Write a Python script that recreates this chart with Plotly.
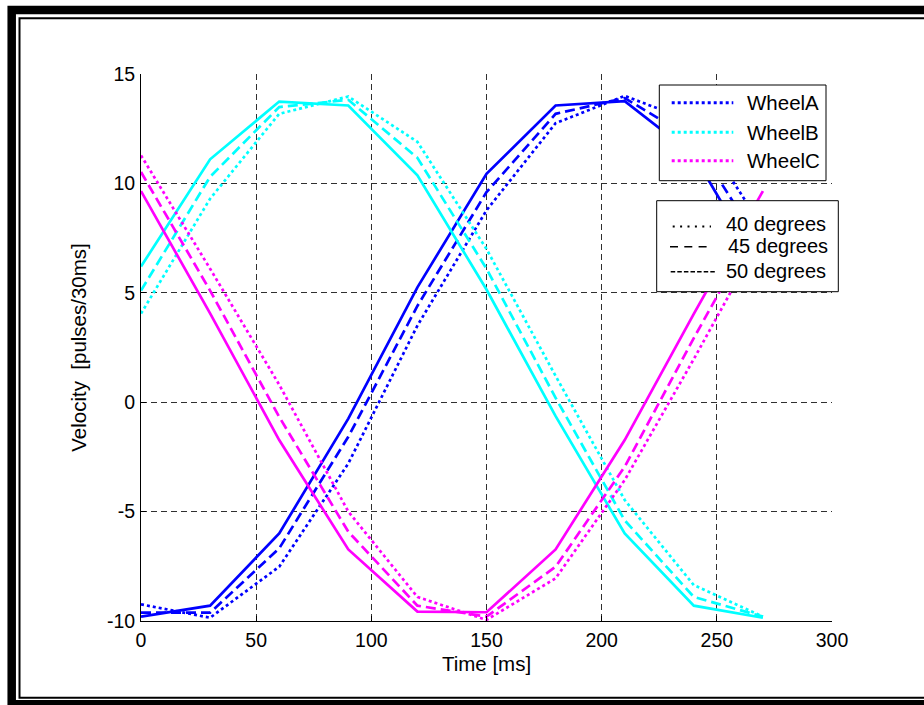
import plotly.graph_objects as go

# ---------------- data ----------------
time_ms = [0, 30, 60, 90, 120, 150, 180, 210, 240, 270]

wheelA_40 = [-9.24, -9.85, -7.52, -2.8, 3.5, 8.77, 12.75, 14.0, 12.8, 8.0]
wheelA_45 = [-9.62, -9.62, -6.68, -1.58, 4.4, 9.6, 13.18, 13.9, 12.0, 7.0]
wheelA_50 = [-9.8, -9.3, -6.0, -0.75, 5.25, 10.44, 13.56, 13.76, 11.3, 5.9]

wheelB_40 = [4.05, 9.3, 13.18, 13.97, 11.9, 7.0, 1.2, -4.47, -8.36, -9.8]
wheelB_45 = [5.1, 10.3, 13.49, 13.82, 11.17, 6.1, 0.2, -5.4, -8.9, -9.8]
wheelB_50 = [6.2, 11.1, 13.74, 13.56, 10.37, 5.15, -0.64, -6.0, -9.3, -9.85]

wheelC_40 = [11.28, 6.1, 0.8, -5.0, -8.9, -9.95, -8.05, -3.56, 1.97, 7.7]
wheelC_45 = [10.52, 5.1, -0.67, -5.92, -9.3, -9.8, -7.52, -2.95, 2.93, 8.6]
wheelC_50 = [9.65, 4.06, -1.73, -6.73, -9.57, -9.6, -6.73, -1.73, 4.04, 9.65]

wheel_names = ["WheelA", "WheelB", "WheelC"]
angle_names = ["40 degrees", "45 degrees", "50 degrees"]

x_tickvals = [0, 50, 100, 150, 200, 250, 300]
x_ticktext = ["0", "50", "100", "150", "200", "250", "300"]
y_tickvals = [-10, -5, 0, 5, 10, 15]
y_ticktext = ["-10", "-5", "0", "5", "10", "15"]

# ---------------- style ----------------
FONT = "Liberation Sans, Arial, sans-serif"
colors = {"WheelA": "#0000FF", "WheelB": "#00FFFF", "WheelC": "#FF00FF"}
dash_for = {"40 degrees": "dot", "45 degrees": "10px,5px", "50 degrees": "solid"}

W_FIG, H_FIG = 924, 705
L, R, T, B = 141, 92, 74, 84
PW, PH = W_FIG - L - R, H_FIG - T - B


def pxx(px):
    return (px - L) / PW


def pxy(py):
    return (T + PH - py) / PH


fig = go.Figure()

series = {
    "WheelA": [wheelA_40, wheelA_45, wheelA_50],
    "WheelB": [wheelB_40, wheelB_45, wheelB_50],
    "WheelC": [wheelC_40, wheelC_45, wheelC_50],
}

for wname in wheel_names:
    for ang, vals in zip(angle_names, series[wname]):
        fig.add_trace(go.Scatter(
            x=time_ms, y=vals, mode="lines",
            name=f"{wname} {ang}",
            line=dict(color=colors[wname], width=2.7, dash=dash_for[ang]),
            showlegend=False,
        ))

shapes = []
# outer frame (thick) and inner frame (thin)
shapes.append(dict(type="rect", xref="paper", yref="paper",
                   x0=pxx(11.7), x1=pxx(980), y0=pxy(9.9), y1=pxy(704.3),
                   line=dict(color="black", width=8.5), fillcolor="rgba(0,0,0,0)", layer="above"))
shapes.append(dict(type="rect", xref="paper", yref="paper",
                   x0=pxx(19.5), x1=pxx(980), y0=pxy(18.2), y1=pxy(697.7),
                   line=dict(color="black", width=2), fillcolor="rgba(0,0,0,0)", layer="above"))

# legend 1 (wheels)
shapes.append(dict(type="rect", xref="paper", yref="paper",
                   x0=pxx(659.3), x1=pxx(826), y0=pxy(85), y1=pxy(180.7),
                   line=dict(color="black", width=1), fillcolor="white", layer="above"))
leg1_y = [102.7, 132.3, 160.7]
for wname, yy in zip(wheel_names, leg1_y):
    shapes.append(dict(type="line", xref="paper", yref="paper",
                       x0=pxx(671.7), x1=pxx(733.3), y0=pxy(yy), y1=pxy(yy),
                       line=dict(color=colors[wname], width=3, dash="dot"), layer="above"))

# legend 2 (angles)
shapes.append(dict(type="rect", xref="paper", yref="paper",
                   x0=pxx(656.7), x1=pxx(838.3), y0=pxy(200.7), y1=pxy(291.7),
                   line=dict(color="black", width=1), fillcolor="white", layer="above"))
leg2_samples = [
    (672.7, 711.0, 226.5, "2px,5.4px", 1.8),
    (670.0, 712.7, 246.7, "8px,6.3px", 1.4),
    (670.7, 716.7, 271.7, "4.5px,2.1px", 1.4),
]
for x0, x1, yy, d, w in leg2_samples:
    shapes.append(dict(type="line", xref="paper", yref="paper",
                       x0=pxx(x0), x1=pxx(x1), y0=pxy(yy), y1=pxy(yy),
                       line=dict(color="black", width=w, dash=d), layer="above"))

annotations = []
for wname, yy in zip(wheel_names, leg1_y):
    annotations.append(dict(xref="paper", yref="paper", x=pxx(745), y=pxy(yy),
                            text=wname, showarrow=False, xanchor="left", yanchor="middle",
                            font=dict(family=FONT, size=20.5, color="black")))
leg2_text = [(724, 224), (726, 246), (724, 271)]
for ang, (xx, yy) in zip(angle_names, leg2_text):
    annotations.append(dict(xref="paper", yref="paper", x=pxx(xx), y=pxy(yy),
                            text=ang, showarrow=False, xanchor="left", yanchor="middle",
                            font=dict(family=FONT, size=20, color="black")))

axis_common = dict(
    showgrid=True, gridcolor="#303030", gridwidth=1, griddash="6px,4px",
    zeroline=False, showline=True, linecolor="black", linewidth=1,
    ticks="inside", ticklen=5, tickcolor="black", tickwidth=1,
    tickfont=dict(family=FONT, size=19.5, color="black"),
    automargin=False,
)

fig.update_layout(
    width=W_FIG, height=H_FIG,
    margin=dict(l=L, r=R, t=T, b=B),
    paper_bgcolor="white", plot_bgcolor="white",
    font=dict(family=FONT, size=20, color="black"),
    showlegend=False,
    xaxis=dict(range=[0, 300], tickmode="array", tickvals=x_tickvals, ticktext=x_ticktext,
               title=dict(text="Time [ms]", font=dict(family=FONT, size=20.5), standoff=6),
               ticklabelstandoff=2, **axis_common),
    yaxis=dict(range=[-10, 15], tickmode="array", tickvals=y_tickvals, ticktext=y_ticktext,
               title=dict(text="Velocity\u00a0 [pulses/30ms]", font=dict(family=FONT, size=20.5), standoff=14),
               ticklabelstandoff=1, **axis_common),
    shapes=shapes,
    annotations=annotations,
)

fig.write_html("out.html")
